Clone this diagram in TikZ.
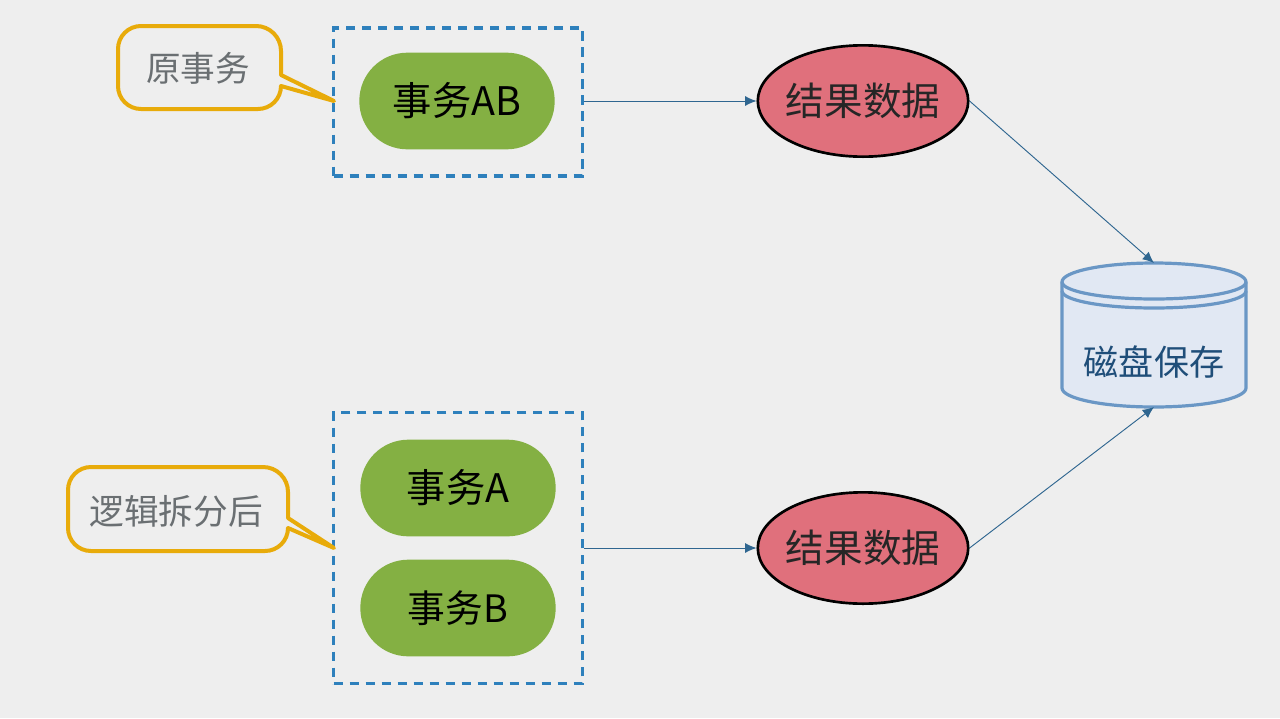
\documentclass[tikz,border=0pt]{standalone}
\usepackage{fontspec}
\setmainfont{Noto Sans CJK SC}
\usetikzlibrary{shapes.geometric,arrows.meta}
\definecolor{bgc}{HTML}{EEEEEE}
\definecolor{dashc}{HTML}{2E80BC}
\definecolor{greenc}{HTML}{84B043}
\definecolor{redc}{HTML}{E0707C}
\definecolor{arrowc}{HTML}{2F6690}
\definecolor{callc}{HTML}{E8AB0A}
\definecolor{callt}{HTML}{6A6F72}
\definecolor{diskc}{HTML}{6A97C5}
\definecolor{diskf}{HTML}{E1E8F3}
\definecolor{diskt}{HTML}{1F4E79}
\tikzset{
  px/.style={x=0.75pt,y=-0.75pt},
  groupbox/.style={draw=dashc,line width=2.6pt,dash pattern=on 7pt off 5pt,rectangle,inner sep=0pt},
  task/.style={fill=greenc,rectangle,rounded corners=36pt,minimum width=146.5pt,minimum height=72.5pt,inner sep=0pt,font=\fontsize{29.5}{32}\selectfont,text=black},
  result/.style={draw=black,line width=2pt,fill=redc,ellipse,minimum width=157.5pt,minimum height=83.5pt,inner xsep=-2.2pt,inner ysep=0pt,font=\fontsize{29}{32}\selectfont,text=black!85},
  link/.style={draw=arrowc,line width=0.7pt,-{Latex[length=8.5pt,width=7.5pt]}},
  callout/.style={draw=callc,line width=3pt,line join=round,fill=bgc},
  calltext/.style={font=\fontsize{26}{28}\selectfont,text=callt,inner sep=0pt},
}
\begin{document}
\begin{tikzpicture}[px]
\useasboundingbox (0,0) rectangle (1280,718);
\fill[bgc] (0,0) rectangle (1280,718);
% dashed groups
\node[groupbox,minimum width=186.5pt,minimum height=111pt] (g1) at (458,102) {};
\node[groupbox,minimum width=186.5pt,minimum height=203.5pt] (g2) at (458,548) {};
% tasks
\node[task] (ab) at (457,101) {事务AB};
\node[task] (a) at (458,488) {事务A};
\node[task,font=\fontsize{28.3}{32}\selectfont] (b) at (458,608) {事务B};
% results
\node[result] (r1) at (863,101) {结果数据};
\node[result] (r2) at (863,548) {结果数据};
% disk
\draw[draw=diskc,line width=2.4pt,fill=diskf]
  (1062,282) -- (1062,388) arc[start angle=180,end angle=0,x radius=92,y radius=19] -- (1246,282)
  arc[start angle=0,end angle=-180,x radius=92,y radius=19] -- cycle;
\draw[draw=diskc,line width=2.4pt] (1062,282) arc[start angle=180,end angle=0,x radius=92,y radius=17];
\draw[draw=diskc,line width=2.4pt] (1062,291) arc[start angle=180,end angle=0,x radius=92,y radius=17];
\node[font=\fontsize{26.3}{28}\selectfont,text=diskt,inner sep=0pt] (disk) at (1154,362) {磁盘保存};
\coordinate (disktop) at (1154,263);
\coordinate (diskbot) at (1154,407);
% connectors
\draw[link] (g1.east |- r1.west) -- (r1.west);
\draw[link] (g2.east |- r2.west) -- (r2.west);
\draw[link] (r1.east) -- (disktop);
\draw[link] (r2.east) -- (diskbot);
% callouts
\draw[callout] (141,26) -- (256,26) arc[start angle=-90,end angle=0,radius=25] -- (281,75) -- (334,101) -- (281,86)
  arc[start angle=0,end angle=90,radius=23] -- (141,109) arc[start angle=90,end angle=180,radius=23] -- (118,49)
  arc[start angle=180,end angle=270,radius=23] -- cycle;
\node[calltext] (t1) at (198,68) {原事务};
\draw[callout] (91,467) -- (263,467) arc[start angle=-90,end angle=0,radius=25] -- (288,518) -- (334,548) -- (288,528)
  arc[start angle=0,end angle=90,radius=23] -- (91,551) arc[start angle=90,end angle=180,radius=23] -- (68,490)
  arc[start angle=180,end angle=270,radius=23] -- cycle;
\node[calltext] (t2) at (176,511) {逻辑拆分后};
\end{tikzpicture}
\end{document}
